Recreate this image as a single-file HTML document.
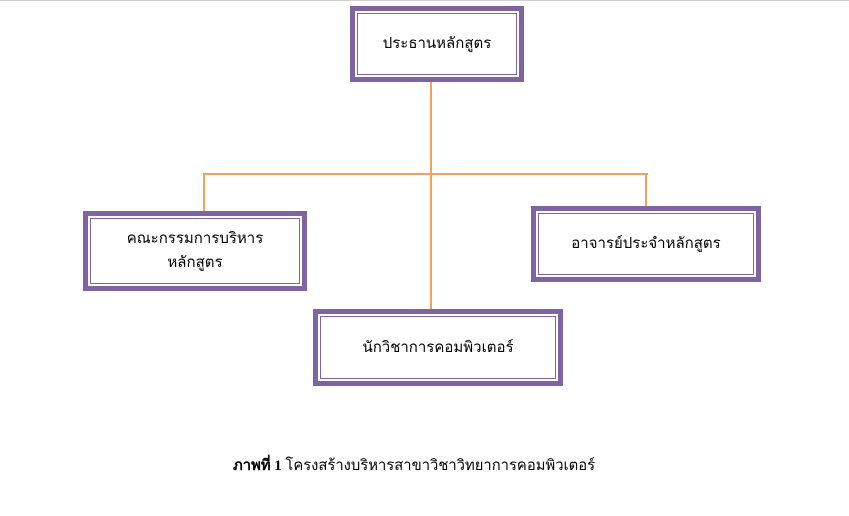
<!DOCTYPE html>
<html><head><meta charset="utf-8"><style>
body{margin:0;width:849px;height:516px;background:#fff;position:relative;overflow:hidden;font-family:"Liberation Sans","Noto Sans CJK SC",sans-serif}
.top{position:absolute;left:0;top:0;width:849px;height:1px;background:#d0d0d0}
.box{position:absolute;box-sizing:border-box;border:5px solid #8064a2;padding:2px;background:#fff}
.in{box-sizing:border-box;border:1px solid #8064a2;width:100%;height:100%;display:flex;align-items:center;justify-content:center;text-align:center;font-size:15px;line-height:24px;color:#000}
.l{position:absolute;background:#f4a15a}
.cap{position:absolute;left:233px;top:453px;font-family:"Liberation Serif","Noto Serif CJK SC",serif;font-size:14.8px;white-space:nowrap}
</style></head><body>
<div class="top"></div>
<div class="l" style="left:430px;top:72px;width:2px;height:245px"></div>
<div class="l" style="left:203px;top:173px;width:445px;height:2px"></div>
<div class="l" style="left:203px;top:173px;width:2px;height:40px"></div>
<div class="l" style="left:645px;top:173px;width:2px;height:35px"></div>
<div class="box" style="left:350px;top:6px;width:174px;height:76px"><div class="in">ประธานหลักสูตร</div></div>
<div class="box" style="left:83px;top:211px;width:224px;height:80px"><div class="in">คณะกรรมการบริหาร<br>หลักสูตร</div></div>
<div class="box" style="left:531px;top:206px;width:230px;height:76px"><div class="in">อาจารย์ประจำหลักสูตร</div></div>
<div class="box" style="left:313px;top:309px;width:250px;height:77px"><div class="in">นักวิชาการคอมพิวเตอร์</div></div>
<div class="cap"><b>ภาพที่ 1</b> โครงสร้างบริหารสาขาวิชาวิทยาการคอมพิวเตอร์</div>
</body></html>
